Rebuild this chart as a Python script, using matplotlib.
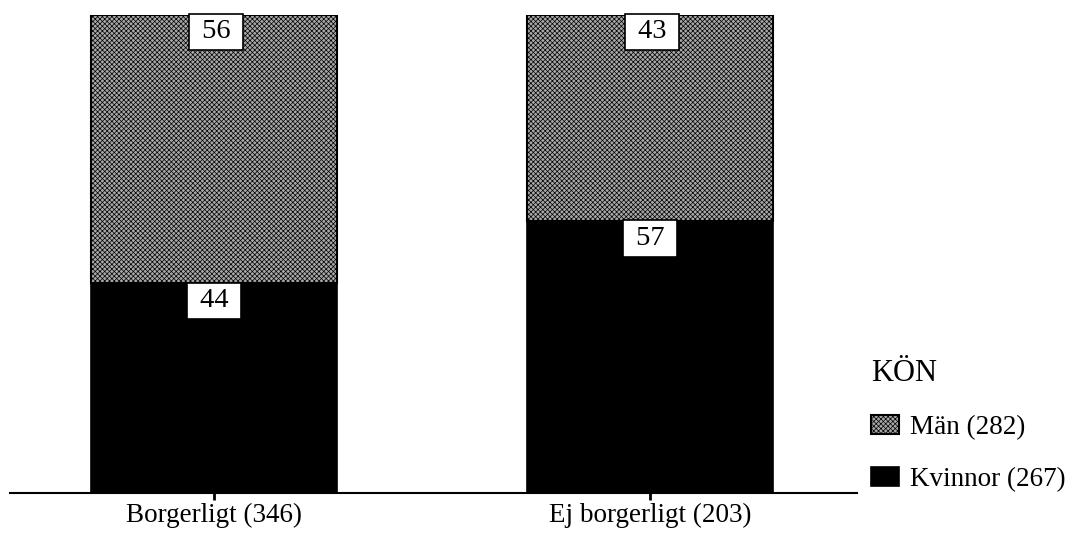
import matplotlib
matplotlib.use('Agg')
import matplotlib.pyplot as plt
import numpy as np

plt.rcParams['font.family'] = ['Liberation Serif', 'DejaVu Serif']
plt.rcParams['hatch.linewidth'] = 0.5

# ─── data ───────────────────────────────────────────────
categories = ['Borgerligt (346)', 'Ej borgerligt (203)']
kvinnor = [44, 57]
man = [56, 43]
legend_title = 'KÖN'
legend_labels = ['Män (282)', 'Kvinnor (267)']

fig = plt.figure(figsize=(10.74, 5.33), dpi=100)
ax = fig.add_axes([0.0093, 0.075, 0.7886, 0.8968])

x = np.arange(len(categories))
w = 0.564

b_k = ax.bar(x, kvinnor, w, color='black', edgecolor='black', linewidth=1.2)
b_m = ax.bar(x, man, w, bottom=kvinnor, color='#a8a8a8', edgecolor='black',
             linewidth=1.5, hatch='xxxxxxx')

# value boxes at the top of each segment
box = dict(boxstyle='square,pad=0.2', facecolor='white', edgecolor='black', linewidth=1.2)
for xi, k, m in zip(x, kvinnor, man):
    ax.annotate(f' {m} ', xy=(xi, k + m), xytext=(1.5, -3), textcoords='offset points',
                ha='center', va='top', fontsize=20.5, bbox=box)
    ax.annotate(f' {k} ', xy=(xi, k), xytext=(0, -4), textcoords='offset points',
                ha='center', va='top', fontsize=20.5, bbox=box)

ax.set_xlim(-0.468, 1.475)
ax.set_ylim(0, 100)
ax.set_xticks(x)
ax.set_xticklabels(categories, fontsize=19.5)
ax.set_yticks([])
ax.tick_params(axis='x', length=5, width=2, pad=2)
for s in ['top', 'left', 'right']:
    ax.spines[s].set_visible(False)
ax.spines['bottom'].set_linewidth(1.5)

leg = fig.legend([b_m, b_k], legend_labels, title=legend_title, loc='upper left',
                 bbox_to_anchor=(0.788, 0.372), frameon=False, fontsize=19.5,
                 title_fontsize=22, handlelength=1.05, handleheight=0.7,
                 handletextpad=0.4, labelspacing=1.0, alignment='left')

fig.savefig('out.png', dpi=100, facecolor='white')
